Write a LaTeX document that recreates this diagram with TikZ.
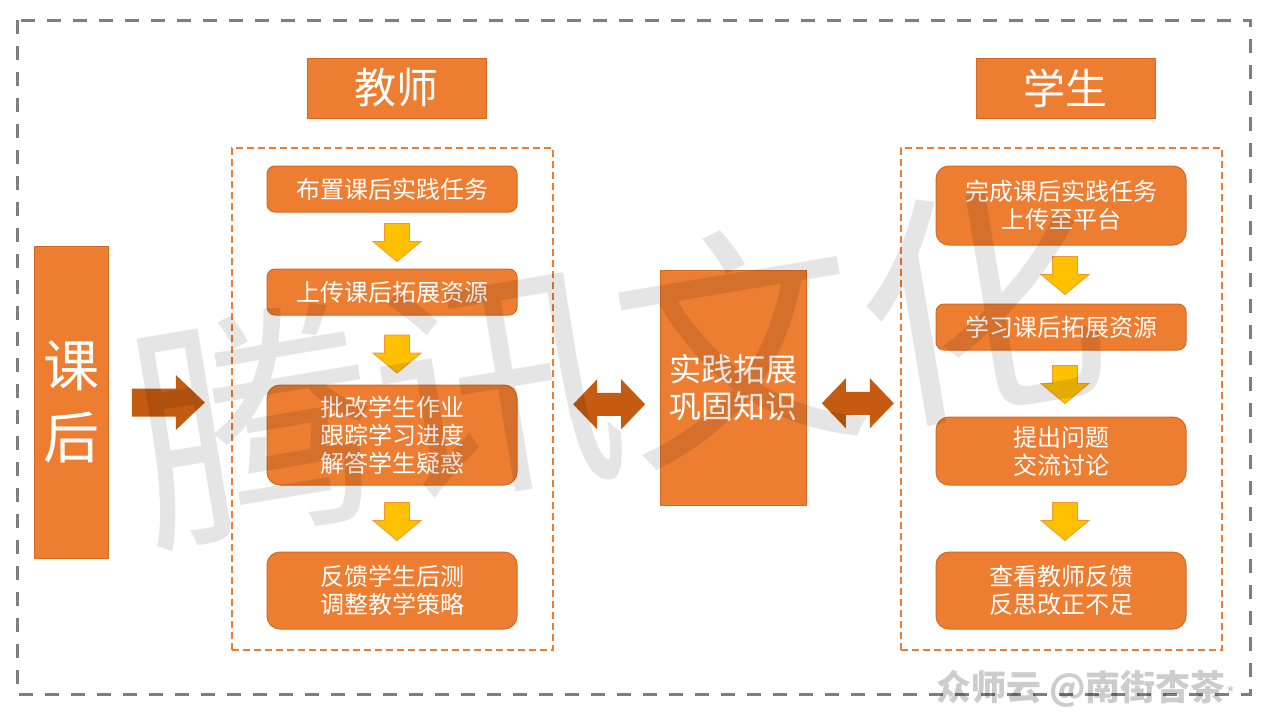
\documentclass[tikz,border=0pt]{standalone}
\usepackage{fontspec}
\setmainfont{Noto Sans CJK SC}
\newfontfamily\djv{DejaVu Sans}
\usetikzlibrary{calc}
\definecolor{org}{HTML}{ED7D31}
\definecolor{orgd}{HTML}{C55A11}
\definecolor{orgb}{HTML}{D26A22}
\definecolor{yel}{HTML}{FFC000}
\definecolor{yelb}{HTML}{EE9A2A}
\definecolor{gry}{HTML}{7F7F7F}
\begin{document}
\begin{tikzpicture}[x=1pt,y=-1pt,
  box/.style={draw=orgb,line width=1,fill=org,text=white,align=center,inner sep=0,
    font=\fontsize{24}{28}\selectfont},
  rbox/.style={box,rounded corners=8,minimum width=250},
  rboxl/.style={box,rounded corners=13,minimum width=250},
  titlebox/.style={box,minimum width=179,minimum height=60,font=\fontsize{42}{42}\selectfont},
  cont/.style={draw=org,line width=1.6,dash pattern=on 7 off 4,minimum width=321,minimum height=502,inner sep=0},
  yd/.pic={\filldraw[fill=yel,draw=yelb,line width=0.8]
     (-12.5,-19) -- (12.5,-19) -- (12.5,-1) -- (24,-1) -- (0,19) -- (-24,-1) -- (-12.5,-1) -- cycle;},
  rarr/.pic={\fill[orgd] (-36.5,-14) -- (7.5,-14) -- (7.5,-27.5) -- (36.5,0) -- (7.5,27.5) -- (7.5,14) -- (-36.5,14) -- cycle;},
  darr/.pic={\fill[orgd] (-36,0) -- (-12,-25) -- (-12,-11.5) -- (12,-11.5) -- (12,-25) -- (36,0)
     -- (12,25) -- (12,11.5) -- (-12,11.5) -- (-12,25) -- cycle;}
]
\useasboundingbox (0,0) rectangle (1267,713);
\fill[white] (0,0) rectangle (1267,713);
% outer frame
\draw[gry,line width=3,dash pattern=on 14 off 12] (17,20) rectangle (1250,694);
% titles
\node[titlebox] (tt) at (396.5,88) {教师};
\node[titlebox] (st) at (1065.5,88) {学生};
% containers
\node[cont] (tc) at (392.5,399) {};
\node[cont] (sc) at (1061.5,399) {};
% left box
\node[box,minimum width=74,minimum height=312,font=\fontsize{56}{72}\selectfont] (kh) at (71,402) {课\\后};
% teacher boxes
\node[rbox,minimum height=46] (t1) at (392,189) {布置课后实践任务};
\node[rbox,minimum height=46] (t2) at (392,292) {上传课后拓展资源};
\node[rboxl,minimum height=100] (t3) at (392,435) {批改学生作业\\跟踪学习进度\\解答学生疑惑};
\node[rboxl,minimum height=77] (t4) at (392,590.5) {反馈学生后测\\调整教学策略};
% center box
\node[box,minimum width=146,minimum height=235,font=\fontsize{32}{37}\selectfont] (cb) at (733,387.5) {实践拓展\\巩固知识};
% student boxes
\node[rboxl,minimum height=79] (s1) at (1061,205.5) {完成课后实践任务\\上传至平台};
\node[rbox,minimum height=46] (s2) at (1061,327) {学习课后拓展资源};
\node[rboxl,minimum height=68] (s3) at (1061,451) {提出问题\\交流讨论};
\node[rboxl,minimum height=77] (s4) at (1061,590.5) {查看教师反馈\\反思改正不足};
% yellow arrows
\pic at ($(t1.south)!0.5!(t2.north)+(5,2)$) {yd};
\pic at ($(t2.south)!0.5!(t3.north)+(5,4)$) {yd};
\pic at ($(t3.south)!0.5!(t4.north)+(5,3)$) {yd};
\pic at ($(s1.south)!0.5!(s2.north)+(4,1)$) {yd};
\pic at ($(s2.south)!0.5!(s3.north)+(4,1)$) {yd};
\pic at ($(s3.south)!0.5!(s4.north)+(4,3)$) {yd};
% dark arrows
\pic at ($(kh.east)!0.5!(tc.west)+(-1.5,2)$) {rarr};
\pic at ($(tc.east)!0.5!(cb.west)+(2.5,11)$) {darr};
\pic at ($(cb.east)!0.5!(sc.west)+(4.5,10)$) {darr};
% watermarks
\node[rotate=9.5,font=\fontsize{245}{245}\selectfont,text=black,text opacity=0.1,inner sep=0] (wm) at (618,365) {腾讯文化};
\node[anchor=east,font=\bfseries\fontsize{35}{35}\selectfont,text=black,text opacity=0.2,inner sep=0] (wm2) at (1226,689) {众师云 @南街杏茶};
\node[anchor=west,font=\djv\fontsize{10}{10}\selectfont,text=black,text opacity=0.2,inner sep=0] (wm3) at (wm2.east) {★};
\end{tikzpicture}
\end{document}
